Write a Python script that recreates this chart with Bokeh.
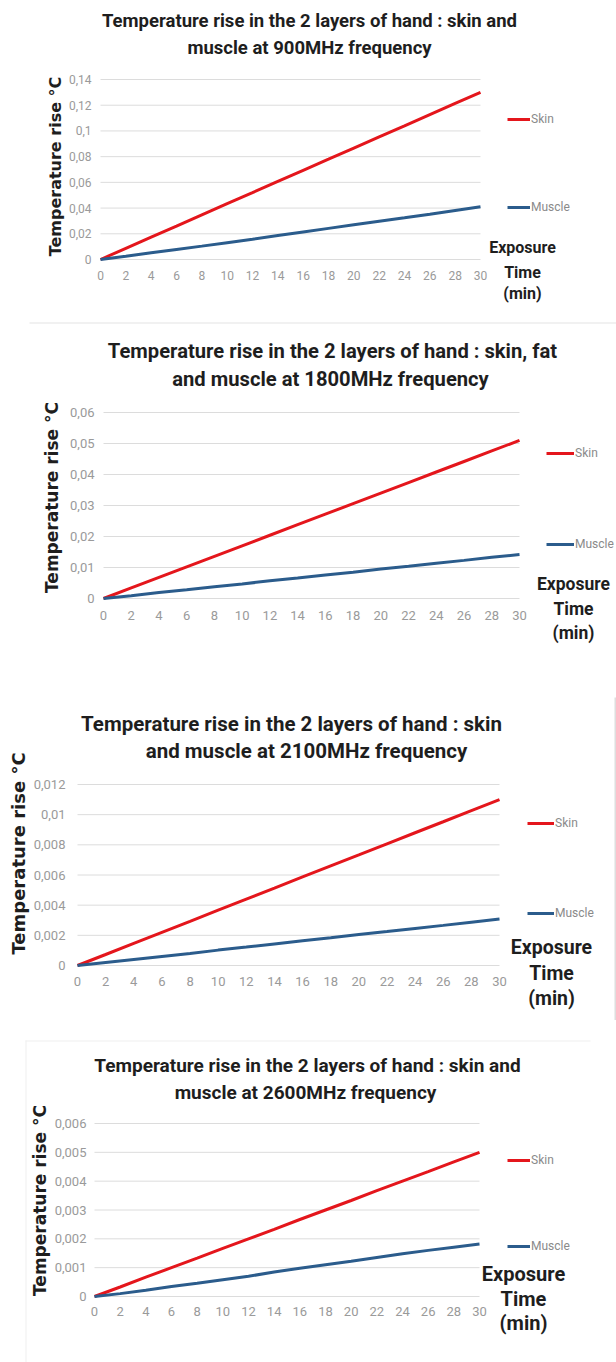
import math
from bokeh.plotting import figure
from bokeh.models import (Range1d, FixedTicker, CustomJSTickFormatter, Label,
                          Legend, LegendItem, BoxAnnotation)
from bokeh.layouts import column
from bokeh.embed import file_html
from bokeh.resources import INLINE

# ---------------- data ----------------
time_min = [0, 2, 4, 6, 8, 10, 12, 14, 16, 18, 20, 22, 24, 26, 28, 30]
x_ticks = [0, 2, 4, 6, 8, 10, 12, 14, 16, 18, 20, 22, 24, 26, 28, 30]

# 900 MHz
skin_900 = [0, 0.0087, 0.0174, 0.026, 0.0347, 0.0434, 0.052, 0.0607, 0.0694,
            0.078, 0.0867, 0.0954, 0.104, 0.1127, 0.1214, 0.13]
muscle_900 = [0, 0.0025, 0.0052, 0.0078, 0.0104, 0.0131, 0.0158, 0.0186, 0.0214,
              0.0242, 0.027, 0.0297, 0.0324, 0.0352, 0.0381, 0.041]
yticks_900 = [0, 0.02, 0.04, 0.06, 0.08, 0.1, 0.12, 0.14]

# 1800 MHz
skin_1800 = [0, 0.0034, 0.0068, 0.0102, 0.0136, 0.017, 0.0204, 0.0238, 0.0272,
             0.0306, 0.034, 0.0374, 0.0408, 0.0442, 0.0476, 0.051]
muscle_1800 = [0, 0.0009, 0.0019, 0.0028, 0.0038, 0.0047, 0.0057, 0.0066, 0.0076,
               0.0085, 0.0095, 0.0104, 0.0114, 0.0123, 0.0133, 0.0142]
yticks_1800 = [0, 0.01, 0.02, 0.03, 0.04, 0.05, 0.06]

# 2100 MHz
skin_2100 = [0, 0.00073, 0.00147, 0.0022, 0.00293, 0.00367, 0.0044, 0.00513, 0.00587,
             0.0066, 0.00733, 0.00807, 0.0088, 0.00953, 0.01027, 0.011]
muscle_2100 = [0, 0.0002, 0.0004, 0.0006, 0.0008, 0.00102, 0.00122, 0.00143, 0.00164,
               0.00184, 0.00205, 0.00225, 0.00246, 0.00266, 0.00287, 0.00308]
yticks_2100 = [0, 0.002, 0.004, 0.006, 0.008, 0.01, 0.012]

# 2600 MHz
skin_2600 = [0, 0.00033, 0.00067, 0.001, 0.00133, 0.00167, 0.002, 0.00233, 0.00267,
             0.003, 0.00333, 0.00367, 0.004, 0.00433, 0.00467, 0.005]
muscle_2600 = [0, 0.0001, 0.00022, 0.00035, 0.00046, 0.00058, 0.0007, 0.00085, 0.00098,
               0.0011, 0.00122, 0.00135, 0.00148, 0.0016, 0.00171, 0.00182]
yticks_2600 = [0, 0.001, 0.002, 0.003, 0.004, 0.005, 0.006]

titles = [
    ("Temperature rise in the 2 layers of hand : skin and", "muscle at 900MHz frequency"),
    ("Temperature rise in the 2 layers of hand : skin, fat", "and muscle at 1800MHz frequency"),
    ("Temperature rise in the 2 layers of hand : skin", "and muscle at 2100MHz frequency"),
    ("Temperature rise in the 2 layers of hand : skin and", "muscle at 2600MHz frequency"),
]
series_names = ["Skin", "Muscle"]
y_title = "Temperature rise °C"
x_title = ["Exposure", "Time", "(min)"]

# ---------------- style / layout ----------------
RED = "#e4161c"
BLUE = "#2b5c8c"
FONT = "Roboto"
WIDE = "DejaVu Sans"
TICK_COLOR = "#9a9a9a"
GRID_COLOR = "#dcdcdc"
W = 616

# frame = (x of t=0, x of t=30, y of top tick, y of 0) in panel pixels
layouts = [
    dict(H=320, frame=(100, 480, 79, 259), tsize=18.5, t1=(309, 20), t2=(309, 47),
         ylab=(55, 166, 16), leg=(507, 119, 207, 23), xlab=(522, (247, 272, 293), 16),
         xstand=11, tstand=9, tick=12, deco=[]),
    dict(H=330, frame=(103, 519, 92, 278), tsize=20.2, t1=(332, 30), t2=(330, 58),
         ylab=(51, 177, 17), leg=(546, 133, 224, 28), xlab=(573, (263, 288, 312), 17.5),
         xstand=12, tstand=9, tick=13, deco=[(29, 616, 2, 3, "#e4e4e4")]),
    dict(H=370, frame=(77, 499, 134, 315), tsize=20.5, t1=(291, 73), t2=(306, 100),
         ylab=(18, 203, 18), leg=(527, 173, 263, 27), xlab=(551, (297, 323, 348), 19.5),
         xstand=11, tstand=12, tick=13, deco=[(614, 616, 47, 370, "#dedede")]),
    dict(H=342, frame=(94, 479, 103, 276), tsize=19, t1=(307, 45), t2=(305, 72),
         ylab=(39, 180, 17), leg=(507, 140, 226, 23), xlab=(523, (253, 278, 302), 20),
         xstand=10, tstand=8, tick=13,
         deco=[(25, 26, 20, 342, "#efefef"), (25, 590, 20, 21, "#efefef")]),
]
data = [
    (skin_900, muscle_900, yticks_900),
    (skin_1800, muscle_1800, yticks_1800),
    (skin_2100, muscle_2100, yticks_2100),
    (skin_2600, muscle_2600, yticks_2600),
]

fmt_code = "return parseFloat(tick.toFixed(6)).toString().replace('.', ',');"


def add_label(p, H, x, y, text, size, font=FONT, color="#1e1e1e", angle=0.0):
    # screen units relative to the frame, which covers the whole canvas
    p.add_layout(Label(x=x, y=H - y, x_units="screen", y_units="screen",
                       text=text, text_font=font, text_font_size=f"{size}px",
                       text_font_style="bold", text_color=color,
                       text_align="center", text_baseline="middle", angle=angle))


figs = []
for cfg, (skin, muscle, yt), (tl1, tl2) in zip(layouts, data, titles):
    H = cfg["H"]
    L, R, T, B = cfg["frame"]
    ymax = yt[-1]
    # data box 0..30 x 0..ymax maps to pixels L..R x B..T; the frame covers
    # the whole canvas so that texts around the chart are not clipped
    xpp = 30 / (R - L)
    ypp = ymax / (B - T)
    p = figure(width=W, height=H,
               x_range=Range1d(-L * xpp, (W - L) * xpp),
               y_range=Range1d(-(H - B) * ypp, B * ypp),
               output_backend="svg", toolbar_location=None, title=None,
               frame_align=False, min_border=0)
    p.outline_line_color = None
    p.background_fill_color = "white"
    p.border_fill_color = "white"

    for (bx0, bx1, by0, by1, bc) in cfg["deco"]:
        p.add_layout(BoxAnnotation(left=bx0, right=bx1, top=H - by0, bottom=H - by1,
                                   left_units="screen", right_units="screen",
                                   top_units="screen", bottom_units="screen",
                                   fill_color=bc, fill_alpha=1, line_color=None,
                                   level="underlay"))

    # axes drawn at the data origin
    p.xaxis.fixed_location = 0
    p.yaxis.fixed_location = 0
    p.xaxis.ticker = FixedTicker(ticks=x_ticks)
    p.yaxis.ticker = FixedTicker(ticks=yt)
    p.xaxis.bounds = (0, 30)
    p.yaxis.bounds = (0, ymax)
    p.yaxis.formatter = CustomJSTickFormatter(code=fmt_code)
    for ax in (p.xaxis[0], p.yaxis[0]):
        ax.axis_line_color = None
        ax.major_tick_line_color = None
        ax.minor_tick_line_color = None
        ax.major_tick_out = 0
        ax.major_tick_in = 0
        ax.minor_tick_out = 0
        ax.minor_tick_in = 0
        ax.major_label_text_font = FONT
        ax.major_label_text_font_size = f"{cfg['tick']}px"
        ax.major_label_text_color = TICK_COLOR
    p.xaxis.major_label_standoff = cfg["xstand"]
    p.yaxis.major_label_standoff = cfg["tstand"]
    p.xgrid.visible = False
    p.ygrid.visible = False

    # horizontal gridlines at the y ticks, spanning the time axis 0..30
    p.segment(x0=[x_ticks[0]] * len(yt), x1=[x_ticks[-1]] * len(yt), y0=yt, y1=yt,
              line_color=GRID_COLOR, line_width=1)

    r_skin = p.line(time_min, skin, line_color=RED, line_width=3)
    r_mus = p.line(time_min, muscle, line_color=BLUE, line_width=3)

    lx, ys, ym, gw = cfg["leg"]
    spacing = (ym - ys) - 14
    leg = Legend(items=[LegendItem(label=series_names[0], renderers=[r_skin]),
                        LegendItem(label=series_names[1], renderers=[r_mus])],
                 location=(lx, H - (ym + 7)), orientation="vertical",
                 spacing=spacing, padding=0, margin=0, glyph_width=gw,
                 glyph_height=14, label_height=14, label_standoff=1,
                 label_text_font=FONT, label_text_font_size="12px",
                 label_text_color="#8a8a8a", border_line_color=None,
                 background_fill_alpha=0)
    p.add_layout(leg)

    # two-line chart title
    add_label(p, H, cfg["t1"][0], cfg["t1"][1], tl1, cfg["tsize"])
    add_label(p, H, cfg["t2"][0], cfg["t2"][1], tl2, cfg["tsize"])
    # y axis title
    yx, yy, ysz = cfg["ylab"]
    add_label(p, H, yx, yy, y_title, ysz, font=WIDE, angle=math.pi / 2)
    # x axis title, at the right end of the axis
    xx, xys, xs = cfg["xlab"]
    for txt, yy2 in zip(x_title, xys):
        add_label(p, H, xx, yy2, txt, xs)

    figs.append(p)

layout = column(*figs, spacing=0)
open("out.html", "w").write(file_html(layout, INLINE))
